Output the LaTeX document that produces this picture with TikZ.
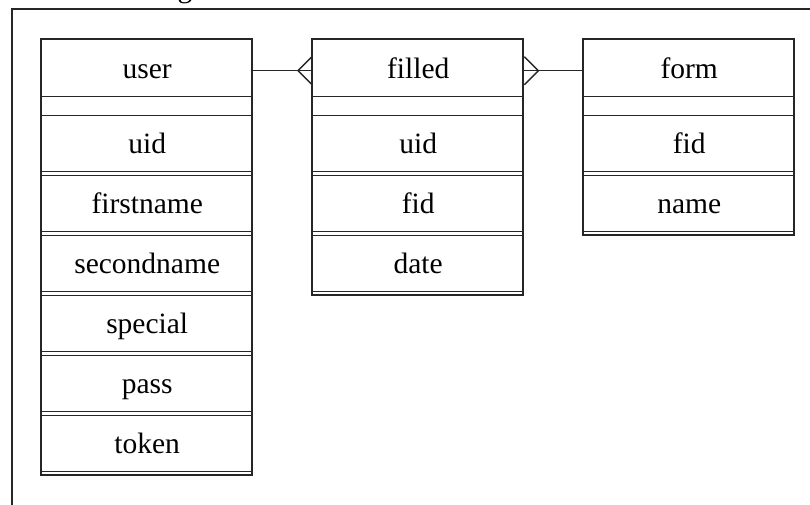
\documentclass[tikz,border=0pt]{standalone}
\usepackage{fontspec}
\setmainfont{Liberation Serif}
\usetikzlibrary{calc}
\begin{document}
\begin{tikzpicture}[x=1pt,y=-1pt,
  ln/.style={line width=1.4pt, draw=black!85},
  txt/.style={font=\fontsize{29.5}{32}\selectfont, text=black},
  cell/.style={ln, txt, rectangle, anchor=north west, inner sep=0pt,
    minimum width=211pt, text height=24pt, text depth=4pt},
  head/.style={cell, minimum height=57pt},
  blank/.style={cell, minimum height=19pt, text height=0pt, text depth=0pt},
  attr/.style={cell, minimum height=56pt},
  frame/.style={ln, line width=1.5pt}]
\useasboundingbox (0,0) rectangle (810,504);
\fill[white] (0,0) rectangle (810,504);

% surrounding frame and caption descender
\draw[frame] (12,540) -- (12,9) -- (850,9);
\node[txt, anchor=base, inner sep=0pt] (caption) at (185,-2.5) {g};

% user table
\draw[ln] (41,39) rectangle (252,475);
\node[head]  (user)   at (41,39)  {user};
\node[blank] (userb)  at (41,96)  {};
\node[attr]  (u1) at (41,115) {uid};
\node[attr]  (u2) at (41,175) {firstname};
\node[attr]  (u3) at (41,235) {secondname};
\node[attr]  (u4) at (41,295) {special};
\node[attr]  (u5) at (41,355) {pass};
\node[attr]  (u6) at (41,415) {token};

% filled table
\draw[ln] (312,39) rectangle (523,295);
\node[head]  (filled)  at (312,39)  {filled};
\node[blank] (filledb) at (312,96)  {};
\node[attr]  (f1) at (312,115) {uid};
\node[attr]  (f2) at (312,175) {fid};
\node[attr]  (f3) at (312,235) {date};

% form table
\draw[ln] (583,39) rectangle (794,235);
\node[head]  (form)  at (583,39)  {form};
\node[blank] (formb) at (583,96)  {};
\node[attr]  (m1) at (583,115) {fid};
\node[attr]  (m2) at (583,175) {name};

% relationships with crow's feet
\coordinate (fl) at ($(filled.west)+(0,2.5)$);
\coordinate (fr) at ($(filled.east)+(0,2.5)$);
\draw[ln] ($(user.east)+(0,2.5)$) -- (fl);
\draw[ln] ($(fl)+(0,-14)$) -- ($(fl)+(-14,0)$) -- ($(fl)+(0,14)$);
\draw[ln] (fr) -- ($(form.west)+(0,2.5)$);
\draw[ln] ($(fr)+(0,-14)$) -- ($(fr)+(14,0)$) -- ($(fr)+(0,14)$);
\end{tikzpicture}
\end{document}
